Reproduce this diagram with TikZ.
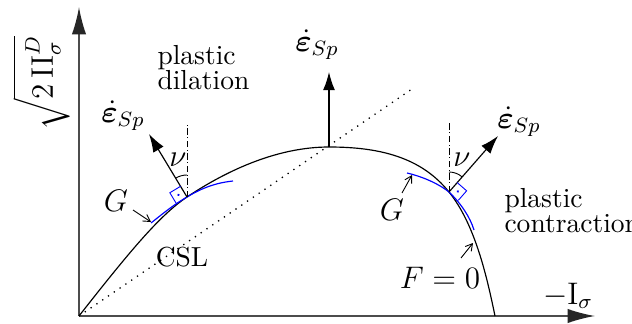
\documentclass[tikz,border=0pt]{standalone}
\usepackage{amsmath,bm}
\usetikzlibrary{arrows.meta}
\begin{document}
\begin{tikzpicture}[x=0.385pt,y=0.385pt,
  axis/.style={line width=0.6pt, draw=black!70, -{Latex[length=10.5pt,width=5.5pt,color=black!85]}},
  curveF/.style={line width=0.45pt},
  curveG/.style={line width=0.45pt, draw=blue},
  normarrow/.style={line width=0.45pt, -{Latex[length=7pt,width=4.6pt]}},
  ptr/.style={line width=0.35pt, -{Straight Barb[length=2.6pt,width=3pt]}},
  vert/.style={line width=0.3pt, dash pattern=on 2.5pt off 1pt on 0.3pt off 1pt},
  csl/.style={line width=0.5pt, dash pattern=on 0.5pt off 2.2pt},
  txt/.style={inner sep=0pt, font=\fontsize{10.6}{9.6}\selectfont, align=left},
  mth/.style={inner sep=0pt, font=\fontsize{12}{14}\selectfont},
  angarc/.style={line width=0.35pt},
  rbox/.style={line width=0.35pt, draw=blue},
  ]
\useasboundingbox (0,0) rectangle (632,323);
% key points
\coordinate (O) at (79,7);
\coordinate (Ytip) at (79,316);
\coordinate (Xtip) at (595,7);
\coordinate (A) at (329,176);
\coordinate (Atip) at (329,251);
\coordinate (L) at (187,126);
\coordinate (Ltip) at (149,189);
\coordinate (Ltop) at (187,198);
\coordinate (R) at (449,131);
\coordinate (Rtip) at (498,187);
\coordinate (Rtop) at (449,201);
\coordinate (E) at (495,7);
\coordinate (CSLend) at (412,234);
% axes
\draw[axis] (O) -- (Ytip);
\draw[axis] (O) -- (Xtip);
% CSL
\draw[csl] (O) -- (CSLend);
% yield surface F
\draw[curveF] (O) .. controls (130,72) and (160,108) .. (L)
  .. controls (229,154) and (279,176) .. (A)
  .. controls (379,176) and (421,166) .. (R)
  .. controls (474,100) and (486,51) .. (E);
% plastic potentials G
\draw[curveG] (151,100) .. controls (166,112) and (175,119) .. (L) .. controls (202,135) and (215,140) .. (233,142);
\draw[curveG] (407,150) .. controls (420,147) and (437,140.5) .. (R) .. controls (461,119.5) and (470,106) .. (474,93);
% verticals
\draw[vert] (L) -- (Ltop);
\draw[vert] (R) -- (Rtop);
% normals
\draw[normarrow] (L) -- (Ltip);
\draw[normarrow] (R) -- (Rtip);
\draw[normarrow] (A) -- (Atip);
% angle arcs
\draw[angarc] ([shift={(90:22)}]L) arc[start angle=90, end angle=121.1, radius=22];
\draw[angarc] ([shift={(48.8:20)}]R) arc[start angle=48.8, end angle=90, radius=20];
% right-angle marks
\begin{scope}[shift={(L)}, rotate=121.1]
  \draw[rbox] (12.5,0) -- (12.5,12.5) -- (0,12.5);
  \fill[blue] (6.25,6.25) circle[radius=1.3];
\end{scope}
\begin{scope}[shift={(R)}, rotate=48.8]
  \draw[rbox] (12.5,0) -- (12.5,-12.5) -- (0,-12.5);
  \fill[blue] (6.25,-6.25) circle[radius=1.3];
\end{scope}
% labels
\node[txt, anchor=west] (dil) at (157,255) {plastic\\dilation};
\node[txt, anchor=west] (con) at (504,112) {plastic\\contraction};
\node[txt] (csl) at (182,66) {CSL};
\node[mth] (epsA) at (317,278) {$\dot{\bm{\varepsilon}}_{Sp}$};
\node[mth] (epsL) at (123,207) {$\dot{\bm{\varepsilon}}_{Sp}$};
\node[mth] (epsR) at (519,201) {$\dot{\bm{\varepsilon}}_{Sp}$};
\node[mth] (nuL) at (178,163) {$\nu$};
\node[mth] (nuR) at (462,163) {$\nu$};
\node[mth] (GL) at (116,122) {$G$};
\node[mth] (GR) at (392,113) {$G$};
\node[mth] (F0) at (440,45) {$F=0$};
\node[mth] (xl) at (568,27) {$-\mathrm{I}_\sigma$};
\node[mth, rotate=90] (yl) at (41,240) {$\sqrt{2\,\mathrm{II}_\sigma^D}$};
% pointers
\coordinate (GLs) at (133,113);
\coordinate (GLe) at (151,101);
\coordinate (GRs) at (402,130);
\coordinate (GRe) at (412,148);
\coordinate (Fs) at (461,65);
\coordinate (Fe) at (473,80);
\draw[ptr] (GLs) -- (GLe);
\draw[ptr] (GRs) -- (GRe);
\draw[ptr] (Fs) -- (Fe);
\end{tikzpicture}
\end{document}
